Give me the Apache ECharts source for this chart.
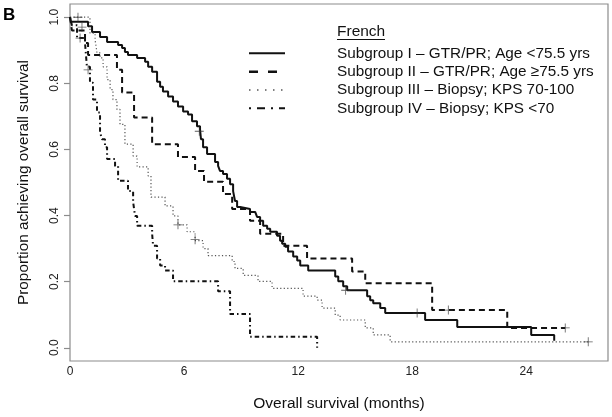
<!DOCTYPE html>
<html>
<head>
<meta charset="utf-8">
<script src="https://cdn.jsdelivr.net/npm/echarts@6/dist/echarts.min.js"></script>
<style>
html,body{margin:0;padding:0;background:#fff;}
#chart{width:612px;height:417px;}
</style>
</head>
<body>
<div id="chart"></div>
<script>
// ---- data (months, proportion surviving) ----
const xTicks = [0, 6, 12, 18, 24];
const yTicks = [0, 0.2, 0.4, 0.6, 0.8, 1.0];
const legendTitle = 'French';
const groupNames = [
  'Subgroup I – GTR/PR; Age <75.5 yrs',
  'Subgroup II – GTR/PR; Age ≥75.5 yrs',
  'Subgroup III – Biopsy; KPS 70-100',
  'Subgroup IV – Biopsy; KPS <70'
];
const groupI = [[0,1.0],[0.05,0.986],[0.95,0.973],[1.16,0.955],[1.58,0.940],[1.95,0.925],[2.53,0.916],[2.74,0.907],[2.89,0.895],[3.05,0.886],[3.53,0.877],[3.95,0.865],[4.11,0.850],[4.32,0.835],[4.58,0.805],[4.74,0.790],[4.89,0.775],[5.16,0.760],[5.42,0.745],[5.68,0.730],[5.95,0.715],[6.21,0.706],[6.42,0.685],[6.68,0.670],[6.84,0.661],[6.89,0.631],[7.0,0.607],[7.21,0.586],[7.63,0.562],[7.79,0.550],[7.89,0.535],[8.05,0.526],[8.26,0.511],[8.42,0.495],[8.58,0.474],[8.68,0.444],[8.79,0.426],[8.95,0.420],[9.47,0.411],[9.74,0.405],[9.84,0.396],[10.0,0.384],[10.16,0.369],[10.37,0.360],[10.53,0.351],[10.89,0.339],[11.05,0.324],[11.16,0.315],[11.32,0.306],[11.47,0.291],[11.74,0.276],[11.95,0.264],[12.11,0.249],[12.53,0.234],[13.95,0.216],[14.11,0.201],[14.37,0.186],[14.58,0.174],[15.63,0.156],[15.79,0.144],[15.95,0.135],[16.32,0.120],[16.58,0.105],[18.68,0.084],[20.37,0.063],[24.26,0.039],[25.47,0.021]];
const groupII = [[0,1.0],[0.1,0.96],[0.79,0.922],[0.95,0.886],[2.47,0.841],[2.74,0.772],[3.37,0.697],[4.32,0.616],[5.68,0.577],[6.58,0.535],[7.05,0.502],[8.05,0.465],[8.53,0.420],[9.47,0.384],[10.0,0.345],[11.21,0.309],[12.47,0.270],[14.84,0.231],[15.53,0.195],[19.05,0.114],[23.0,0.060],[26.05,0.060]];
const groupIII = [[0,1.0],[1.05,0.952],[1.32,0.931],[1.42,0.892],[1.58,0.877],[1.74,0.850],[1.95,0.811],[2.11,0.781],[2.26,0.751],[2.47,0.721],[2.63,0.676],[2.89,0.616],[3.32,0.580],[3.53,0.547],[4.11,0.520],[4.26,0.456],[5.0,0.429],[5.42,0.399],[5.68,0.372],[6.16,0.351],[6.58,0.324],[7.0,0.300],[7.26,0.279],[8.53,0.261],[8.68,0.240],[9.11,0.219],[9.89,0.201],[10.63,0.180],[12.26,0.156],[13.0,0.144],[13.26,0.120],[13.95,0.099],[14.21,0.084],[15.53,0.060],[15.95,0.039],[16.84,0.018],[27.26,0.018]];
const groupIV = [[0,1.0],[0.1,0.976],[0.37,0.937],[0.79,0.922],[0.89,0.850],[1.05,0.802],[1.21,0.751],[1.42,0.712],[1.58,0.652],[1.68,0.631],[1.84,0.607],[1.95,0.571],[2.37,0.550],[2.53,0.505],[3.05,0.474],[3.32,0.441],[3.42,0.399],[3.53,0.369],[4.32,0.345],[4.37,0.309],[4.58,0.270],[4.74,0.249],[5.0,0.234],[5.42,0.201],[7.79,0.171],[8.42,0.102],[9.47,0.033],[13.0,0.0]];
// censoring marks (+)
const censorI = [[6.8,0.655],[14.5,0.174],[18.26,0.105]];
const censorII = [[0.63,0.97],[19.9,0.114],[26.05,0.060]];
const censorIII = [[0.42,1.0],[5.68,0.372],[6.58,0.327],[27.26,0.018]];
const censorIV = [[0.53,0.937],[0.95,0.841]];

// ---- styles ----
const FONT = '"Liberation Sans", Arial, sans-serif';
const styles = [
  {color:'#111', width:2, type:'solid', legendDash:null, legendW:2},
  {color:'#111', width:2, type:[6,4], legendDash:[9,10], legendW:2.5},
  {color:'#555', width:1.2, type:[1.2,2.3], legendDash:[1.5,6.5], legendW:1.5},
  {color:'#111', width:2, type:[1.5,3,4.5,3], legendDash:[2,6,8,6], legendW:2}
];
const groups = [groupI, groupII, groupIII, groupIV];
const censors = [censorI, censorII, censorIII, censorIV];
const plusPath = 'path://M-0.09,-1 L0.09,-1 L0.09,1 L-0.09,1 Z M-1,-0.09 L1,-0.09 L1,0.09 L-1,0.09 Z';

const series = [];
groups.forEach((g, i) => {
  series.push({
    name: groupNames[i], type:'line', step:'end', data:g, symbol:'none',
    lineStyle:{color:styles[i].color, width:styles[i].width, type:styles[i].type},
    silent:true, z:2
  });
});
censors.forEach((c, i) => {
  series.push({
    name: groupNames[i] + ' censored', type:'scatter', data:c,
    symbol: plusPath, symbolSize: 9,
    itemStyle:{color:'#333'}, silent:true, z:3
  });
});

const graphics = [
  {type:'text', left:3, top:7, style:{text:'B', font:'bold 17px ' + FONT, fill:'#000'}},
  {type:'text', x:337, y:32, style:{text:legendTitle, font:'15.5px ' + FONT, fill:'#111', verticalAlign:'middle'}},
  {type:'line', shape:{x1:337, y1:39.5, x2:385, y2:39.5}, style:{stroke:'#111', lineWidth:1}}
];
const rowY = [53.3, 71.7, 90, 108.3];
groupNames.forEach((n, i) => {
  graphics.push({type:'line', shape:{x1:249, y1:rowY[i], x2:285, y2:rowY[i]},
    style:{stroke:styles[i].color, lineWidth:styles[i].legendW, lineDash:styles[i].legendDash}});
  graphics.push({type:'text', x:337, y:rowY[i], style:{text:n, font:'15.3px ' + FONT, fill:'#111', verticalAlign:'middle'}});
});

const chart = echarts.init(document.getElementById('chart'), null, {renderer:'canvas'});
chart.setOption({
  animation:false,
  backgroundColor:'#fff',
  grid:{left:70, right:4, top:4, bottom:54, show:true, borderColor:'#8c8c8c', borderWidth:1.2, backgroundColor:'transparent'},
  xAxis:{
    type:'value', min:0, max:28.3,
    name:'Overall survival (months)', nameLocation:'middle', nameGap:35,
    nameTextStyle:{fontFamily:FONT, fontSize:15.5, color:'#111'},
    axisLine:{show:false}, axisTick:{show:false}, splitLine:{show:false},
    axisLabel:{customValues:xTicks, fontFamily:FONT, fontSize:12, color:'#222', margin:5}
  },
  yAxis:{
    type:'value', min:-0.04, max:1.04,
    name:'Proportion achieving overall survival', nameLocation:'middle', nameGap:39,
    nameTextStyle:{fontFamily:FONT, fontSize:15.3, color:'#111'},
    axisLine:{show:false}, splitLine:{show:false},
    axisTick:{show:true, customValues:yTicks, length:6, lineStyle:{color:'#8c8c8c', width:1.2}},
    axisLabel:{customValues:yTicks, rotate:90, fontFamily:FONT, fontSize:12, color:'#222', margin:9,
      formatter:v => v.toFixed(1)}
  },
  graphic:graphics,
  series:series
});
</script>
</body>
</html>
